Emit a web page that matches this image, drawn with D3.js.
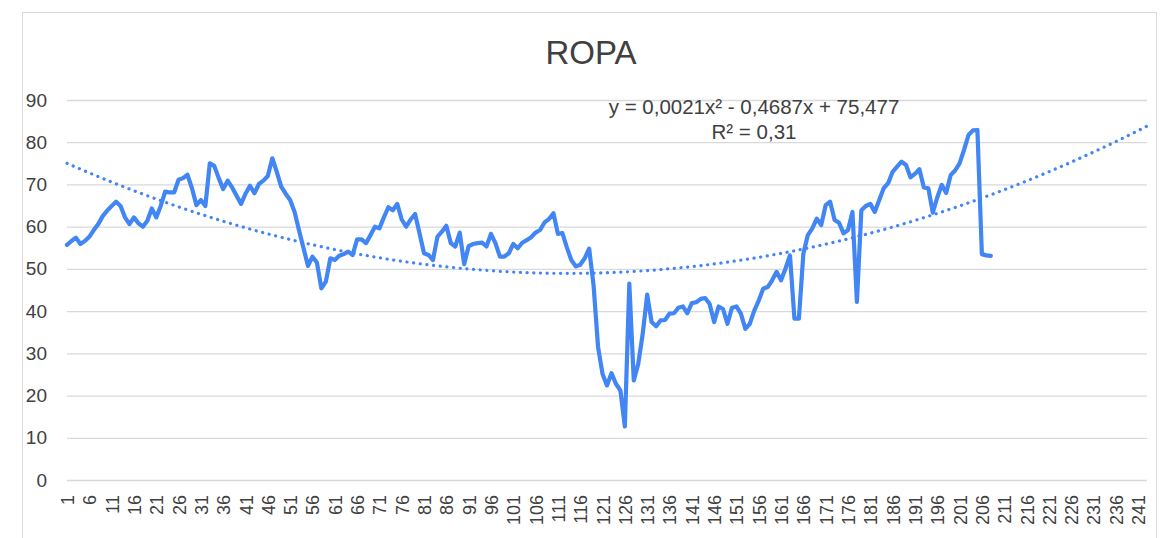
<!DOCTYPE html>
<html>
<head>
<meta charset="utf-8">
<script src="https://cdn.jsdelivr.net/npm/d3@7"></script>
<style>
  html, body { margin: 0; padding: 0; background: #fff; }
  svg { display: block; font-family: "Liberation Sans", Arial, sans-serif; }
</style>
</head>
<body>
<div id="chart"></div>
<script>
// ---- data ----
const chartTitle = 'ROPA';

// category axis runs past the data because the trendline is forecast forward
const categories = d3.range(1, 244);

const ropa = [
  55.7, 56.6, 57.4, 55.9, 56.6, 57.6, 59.2, 60.6, 62.5, 63.8,
  64.9, 65.9, 64.9, 62.2, 60.6, 62.2, 60.8, 60.0, 61.4, 64.3,
  62.2, 64.9, 68.3, 68.1, 68.1, 71.1, 71.5, 72.3, 69.1, 65.1,
  66.3, 64.9, 75.0, 74.4, 71.5, 68.9, 70.9, 69.3, 67.3, 65.4,
  67.8, 69.7, 67.9, 70.1, 70.9, 72.0, 76.2, 73.0, 69.5, 67.8,
  66.3, 63.5, 59.1, 54.9, 50.7, 52.9, 51.5, 45.4, 47.0, 52.5,
  52.1, 53.1, 53.5, 54.1, 53.3, 57.0, 57.0, 56.1, 58.0, 60.0,
  59.6, 62.2, 64.6, 63.9, 65.4, 61.7, 60.0, 61.7, 63.0, 58.4,
  53.7, 53.3, 52.1, 57.6, 58.8, 60.2, 56.1, 55.3, 58.6, 51.1,
  55.4, 55.9, 56.1, 56.2, 55.3, 58.3, 56.1, 52.9, 52.9, 53.7,
  55.9, 54.9, 56.2, 56.8, 57.5, 58.6, 59.2, 61.0, 61.8, 63.2,
  58.3, 58.5, 55.1, 52.1, 50.6, 51.0, 52.5, 54.8, 46.0, 31.5,
  25.1, 22.4, 25.3, 22.8, 21.2, 12.7, 46.5, 23.6, 27.5, 34.6,
  43.9, 37.4, 36.4, 37.8, 37.9, 39.4, 39.5, 40.8, 41.1, 39.5,
  41.9, 42.1, 42.9, 43.1, 41.7, 37.4, 41.1, 40.5, 37.0, 40.8,
  41.1, 39.4, 35.8, 37.0, 40.1, 42.5, 45.3, 45.7, 47.3, 49.3,
  47.3, 50.1, 53.2, 38.2, 38.2, 53.6, 58.0, 59.6, 61.9, 60.4,
  65.1, 65.9, 61.6, 60.9, 58.4, 59.2, 63.5, 42.2, 63.9, 64.9,
  65.4, 63.5, 66.3, 69.1, 70.3, 73.0, 74.2, 75.4, 74.6, 71.7,
  72.5, 73.6, 69.3, 69.1, 63.3, 66.9, 69.9, 68.0, 72.2, 73.3,
  75.0, 78.2, 81.7, 82.8, 82.9, 53.5, 53.2, 53.1
];

// polynomial trendline (order 2): c0 + c1*x + c2*x^2
const trendCoef = [75.477, -0.4687, 0.00207];
const trendLabel = ['y = 0,0021x² - 0,4687x + 75,477', 'R² = 0,31'];

const yTicks = [0, 10, 20, 30, 40, 50, 60, 70, 80, 90];
const xTickStep = 5;

// ---- drawing ----
const W = 1163, H = 538;
const plot = { left: 67, right: 1147, top: 100, bottom: 480 };
const blue = '#4285f4';
const textColor = '#404040';

const svg = d3.select('#chart').append('svg')
  .attr('width', W).attr('height', H);

// chart frame
svg.append('rect')
  .attr('x', 22.5).attr('y', 12.5)
  .attr('width', 1134).attr('height', 540)
  .attr('fill', 'none').attr('stroke', '#d9d9d9').attr('stroke-width', 1);

const x = d3.scalePoint().domain(categories).range([plot.left, plot.right]).padding(0);
const y = d3.scaleLinear().domain([0, 90]).range([plot.bottom, plot.top]);

// gridlines + y labels
svg.append('g')
  .attr('transform', `translate(${plot.left},0)`)
  .call(d3.axisLeft(y).tickValues(yTicks).tickSize(-(plot.right - plot.left)).tickPadding(20))
  .call(g => g.select('.domain').remove())
  .call(g => g.selectAll('line').attr('stroke', '#d9d9d9').attr('stroke-width', 1.3))
  .call(g => g.selectAll('text')
    .attr('font-size', '19px').attr('fill', textColor)
    .attr('font-family', '"Liberation Sans", Arial, sans-serif'));

// x labels, rotated
const xTicks = categories.filter((c, i) => i % xTickStep === 0);
svg.append('g')
  .attr('transform', `translate(0,${plot.bottom})`)
  .call(d3.axisBottom(x).tickValues(xTicks).tickSize(0).tickPadding(0))
  .call(g => g.select('.domain').remove())
  .call(g => g.selectAll('text')
    .attr('font-size', '18px').attr('fill', textColor)
    .attr('font-family', '"Liberation Sans", Arial, sans-serif')
    .attr('text-anchor', 'end')
    .attr('dy', null)
    .attr('transform', 'translate(6.5,15) rotate(-90)'));

// trendline
const trend = categories.map(c => trendCoef[0] + trendCoef[1] * c + trendCoef[2] * c * c);
svg.append('path')
  .datum(trend)
  .attr('fill', 'none')
  .attr('stroke', blue)
  .attr('stroke-width', 3.2)
  .attr('stroke-linecap', 'round')
  .attr('stroke-dasharray', '0.1 6.6')
  .attr('d', d3.line().x((d, i) => x(categories[i])).y(d => y(d)));

// series
svg.append('path')
  .datum(ropa)
  .attr('fill', 'none')
  .attr('stroke', blue)
  .attr('stroke-width', 4.2)
  .attr('stroke-linejoin', 'round')
  .attr('stroke-linecap', 'round')
  .attr('d', d3.line().x((d, i) => x(categories[i])).y(d => y(d)));

// trendline equation
svg.append('text')
  .attr('x', 754).attr('y', 114)
  .attr('text-anchor', 'middle')
  .attr('font-size', '20.5px').attr('fill', textColor)
  .selectAll('tspan')
  .data(trendLabel)
  .join('tspan')
  .attr('x', 754)
  .attr('dy', (d, i) => i === 0 ? 0 : 25)
  .text(d => d);

// title
svg.append('text')
  .attr('x', 591).attr('y', 64)
  .attr('text-anchor', 'middle')
  .attr('font-size', '33px').attr('fill', textColor)
  .text(chartTitle);
</script>
</body>
</html>
